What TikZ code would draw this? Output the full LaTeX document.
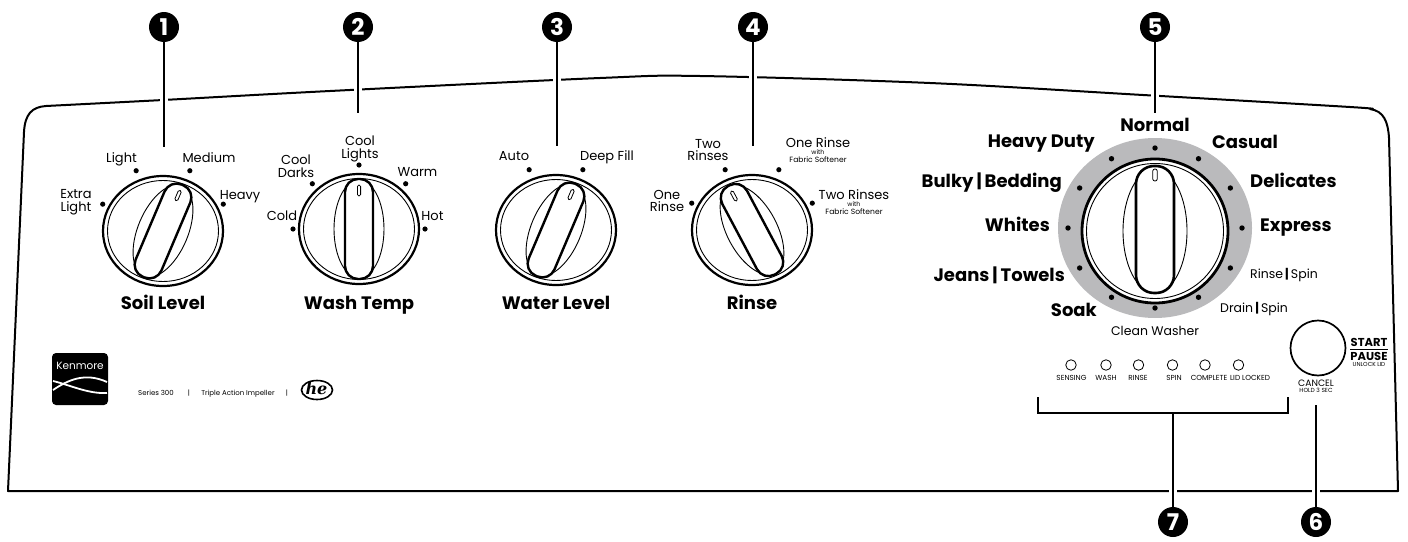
\documentclass[tikz,border=0pt]{standalone}
\usepackage{fontspec}
\usetikzlibrary{calc}
\setmainfont{Poppins}
\newfontfamily\heserif{DejaVu Serif}
\definecolor{dialgrey}{RGB}{186,186,188}

% one rotary selector: centre x, centre y, grip angle (clockwise, degrees)
\newcommand{\knobdial}[3]{%
  \begin{scope}[shift={(#1,#2)}]
    \fill[white] (0,0) ellipse [x radius=60, y radius=55];
    \draw[ring] (0,0) ellipse [x radius=60, y radius=55];
    \draw[thinring] (0,0) ellipse [x radius=55.5, y radius=50.5];
    \begin{scope}[rotate=-#3]
      \draw[thinring] (0,0) ellipse [x radius=25, y radius=49];
      \draw[grip] (-14,-50) rectangle (14,50);
      \draw[slot] (-1.6,-44) rectangle (1.6,-33);
    \end{scope}
  \end{scope}}

\begin{document}
\begin{tikzpicture}[x=1pt,y=-1pt,
  panel/.style={line width=2pt, line join=round},
  leader/.style={line width=2pt, preaction={draw=white, line width=8pt}},
  callout/.style={circle, fill=black, text=white, inner sep=0pt, minimum size=30pt,
    font=\fontsize{23}{23}\selectfont\bfseries},
  ring/.style={line width=2.2pt},
  thinring/.style={line width=0.9pt},
  grip/.style={line width=2.4pt, fill=white, rounded corners=13pt},
  slot/.style={line width=0.8pt, fill=white, rounded corners=1.5pt},
  opt/.style={font=\fontsize{13}{12.5}\selectfont, inner sep=0pt, align=center},
  optb/.style={font=\fontsize{18}{18}\selectfont\bfseries, inner sep=0pt},
  optm/.style={font=\fontsize{12.5}{12.5}\selectfont, inner sep=0pt},
  fabric/.style={font=\fontsize{7.6}{7.6}\selectfont, inner sep=0pt},
  withtxt/.style={font=\fontsize{6.3}{6.3}\selectfont, inner sep=0pt},
  lamp/.style={circle, draw, line width=0.8pt, minimum size=10.5pt, inner sep=0pt},
  lamptext/.style={font=\fontsize{7.3}{7.3}\selectfont, inner sep=0pt, anchor=base},
  small/.style={font=\fontsize{7}{7}\selectfont, inner sep=0pt, anchor=base}]
\useasboundingbox (0,0) rectangle (1408,541);

% ---------- panel outline ----------
\draw[panel] (1398,491) -- (8,491) -- (24,132)
  .. controls (25,114) and (32,107) .. (46,106)
  -- plot[smooth, tension=0.55] coordinates {(46,106) (163,100) (330,91) (600,78) (700,76) (930,83) (1143,95) (1350,107) (1370,109)}
  .. controls (1384,111) and (1388,122) .. (1389,138) -- cycle;

% ---------- callouts ----------
\node[callout] (c1) at (164,27) {1};
\node[callout] (c2) at (358,27) {2};
\node[callout] (c3) at (557,27) {3};
\node[callout] (c4) at (753,27) {4};
\node[callout] (c5) at (1155,27) {5};
\node[callout] (c6) at (1316,522) {6};
\node[callout] (c7) at (1173,522) {7};
\coordinate (e1) at (164,147);
\coordinate (e2) at (358,113);
\coordinate (e3) at (557,146);
\coordinate (e4) at (753,146);
\coordinate (e5) at (1155,113);
\coordinate (e6) at (1316,405);
\coordinate (e7) at (1173,413);
\draw[leader] (c1) -- (e1);
\draw[leader] (c2) -- (e2);
\draw[leader] (c3) -- (e3);
\draw[leader] (c4) -- (e4);
\draw[leader] (c5) -- (e5);
\draw[leader] (c6) -- (e6);
\draw[leader] (c7) -- (e7);
\draw[line width=2pt] (1038,397) -- (1038,413) -- (1288,413) -- (1288,397);

% ---------- Soil Level ----------
\knobdial{163}{231}{23}
\foreach \a in {24,66,114,156} \fill ($(163,231)+(-\a:66)$) circle (2.6);
\node[opt, anchor=base] (soil-light) at (121.5,162.5) {Light};
\node[opt, anchor=base] (soil-medium) at (209,162.5) {Medium};
\node[opt] (soil-xlight) at (76,202) {Extra\\Light};
\node[opt, anchor=base] (soil-heavy) at (240,199) {Heavy};
\node[optb, anchor=base] (soil) at (163,309) {Soil Level};

% ---------- Wash Temp ----------
\knobdial{359}{229}{0}
\foreach \a in {0,45,90,135,180} \fill ($(359,229)+(-\a:66 and 64)$) circle (2.6);
\node[opt] (temp-cl) at (360,149) {Cool\\Lights};
\node[opt] (temp-cd) at (296,166) {Cool\\Darks};
\node[opt, anchor=base] (temp-warm) at (417.5,176.5) {Warm};
\node[opt, anchor=base] (temp-cold) at (282,220.5) {Cold};
\node[opt, anchor=base] (temp-hot) at (432.5,220.5) {Hot};
\node[optb, anchor=base] (temp) at (359,309) {Wash Temp};

% ---------- Water Level ----------
\knobdial{556}{230}{23}
\foreach \a in {66,114} \fill ($(556,230)+(-\a:66)$) circle (2.6);
\node[opt, anchor=base] (lvl-auto) at (514,160.5) {Auto};
\node[opt, anchor=base] (lvl-deep) at (607,160.5) {Deep Fill};
\node[optb, anchor=base] (lvl) at (556,309) {Water Level};

% ---------- Rinse ----------
\knobdial{752}{230}{-28}
\foreach \a in {24,66,114,156} \fill ($(752,230)+(-\a:66)$) circle (2.6);
\node[opt] (r-two) at (708,150) {Two\\Rinses};
\node[opt] (r-one) at (667,201) {One\\Rinse};
\node[opt, anchor=base] (r-onefs) at (818,147.5) {One Rinse};
\node[withtxt, anchor=base] (r-onefs-w) at (818,154.5) {with};
\node[fabric, anchor=base] (r-onefs-f) at (818,162.5) {Fabric Softener};
\node[opt, anchor=base] (r-twofs) at (854,199.5) {Two Rinses};
\node[withtxt, anchor=base] (r-twofs-w) at (854,206) {with};
\node[fabric, anchor=base] (r-twofs-f) at (854,214) {Fabric Softener};
\node[optb, anchor=base] (rinse) at (752,309) {Rinse};

% ---------- cycle selector ----------
\fill[dialgrey] (1155,228) ellipse [x radius=97, y radius=90];
\begin{scope}[shift={(1155,231)}]
  \fill[white] (0,0) ellipse [x radius=73, y radius=72];
  \draw[line width=2.8pt] (0,0) ellipse [x radius=73, y radius=72];
  \draw[thinring] (0,0) ellipse [x radius=68.5, y radius=67.5];
  \draw[thinring] (0,0) ellipse [x radius=32, y radius=62];
  \draw[grip, line width=2.6pt, rounded corners=18pt] (-19,-65) rectangle (19,62);
  \draw[slot, rounded corners=2pt] (-2.2,-62) rectangle (2.2,-50);
\end{scope}
\foreach \a in {0,30,...,330} \fill ($(1155,228)+(-\a:87 and 80)$) circle (2.7);
\node[optb, anchor=base] (cy-normal) at (1155,131) {Normal};
\node[optb, anchor=base east] (cy-heavy) at (1095,147) {Heavy Duty};
\node[optb, anchor=base west] (cy-casual) at (1212,148) {Casual};
\node[optb, anchor=base east] (cy-bulky) at (1062,187) {Bulky\,|\,Bedding};
\node[optb, anchor=base west] (cy-delicates) at (1250,187) {Delicates};
\node[optb, anchor=base east] (cy-whites) at (1050,231.5) {Whites};
\node[optb, anchor=base west] (cy-express) at (1260,231.5) {Express};
\node[optb, anchor=base east] (cy-jeans) at (1065,281.5) {Jeans\,|\,Towels};
\node[optm, anchor=base west] (cy-rinse) at (1250,278.5) {Rinse\,\textbf{|}\,Spin};
\node[optb, anchor=base east] (cy-soak) at (1097,316.5) {Soak};
\node[optm, anchor=base west] (cy-drain) at (1220,312.5) {Drain\,\textbf{|}\,Spin};
\node[optm, anchor=base] (cy-clean) at (1155,335) {Clean Washer};

% ---------- status lamps ----------
\node[lamp] (l1) at (1071,365) {};
\node[lamp] (l2) at (1106,365) {};
\node[lamp] (l3) at (1138.5,365) {};
\node[lamp] (l4) at (1172.5,365) {};
\node[lamp] (l5) at (1205,365) {};
\node[lamp] (l6) at (1238.5,365) {};
\node[lamptext] (t1) at (1071.5,380) {SENSING};
\node[lamptext] (t2) at (1106,380) {WASH};
\node[lamptext] (t3) at (1138,380) {RINSE};
\node[lamptext] (t4) at (1174,380) {SPIN};
\node[lamptext] (t5) at (1209,380) {COMPLETE};
\node[lamptext] (t6) at (1250,380) {LID LOCKED};

% ---------- start button ----------
\node[circle, draw, line width=1.7pt, minimum size=55pt, inner sep=0pt] (btn) at (1318,348) {};
\node[font=\fontsize{11.5}{11.5}\selectfont\bfseries, inner sep=0pt, anchor=base] (start) at (1369,346) {START};
\node[font=\fontsize{11.5}{11.5}\selectfont\bfseries, inner sep=0pt, anchor=base] (pause) at (1369,360.5) {PAUSE};
\draw[line width=1.1pt] ($(start.base west)+(0,3.3)$) -- ($(start.base east)+(0,3.3)$);
\node[font=\fontsize{5.8}{5.8}\selectfont, inner sep=0pt, anchor=base] (unlock) at (1369,366.5) {UNLOCK LID};
\node[font=\fontsize{9.2}{9.2}\selectfont, inner sep=0pt, anchor=base] (cancel) at (1316,386) {CANCEL};
\node[font=\fontsize{5.9}{5.9}\selectfont, inner sep=0pt, anchor=base] (hold) at (1316,392.5) {HOLD 3 SEC};

% ---------- brand strip ----------
\fill[rounded corners=4pt] (52,353) rectangle (108,405);
\node[text=white, font=\fontsize{10.5}{10.5}\selectfont, inner sep=0pt] (brand) at (80,365.5) {Kenmore};
\draw[white, line width=1.8pt] (53,390) .. controls (68,380) and (85,372) .. (107,382);
\draw[white, line width=1.8pt] (53,381) .. controls (70,385) and (88,394) .. (107,393);
\node[small] (series) at (156,395) {Series 300};
\node[small] (bar1) at (189,395) {|};
\node[small] (tai) at (238,395) {Triple Action Impeller};
\node[small] (bar2) at (287,395) {|};
\draw[line width=1.6pt] (317,390) ellipse [x radius=15.5, y radius=9.5];
\node[font=\fontsize{16}{16}\selectfont\heserif\bfseries\itshape, inner sep=0pt] (he) at (316.5,389) {he};
\end{tikzpicture}
\end{document}
